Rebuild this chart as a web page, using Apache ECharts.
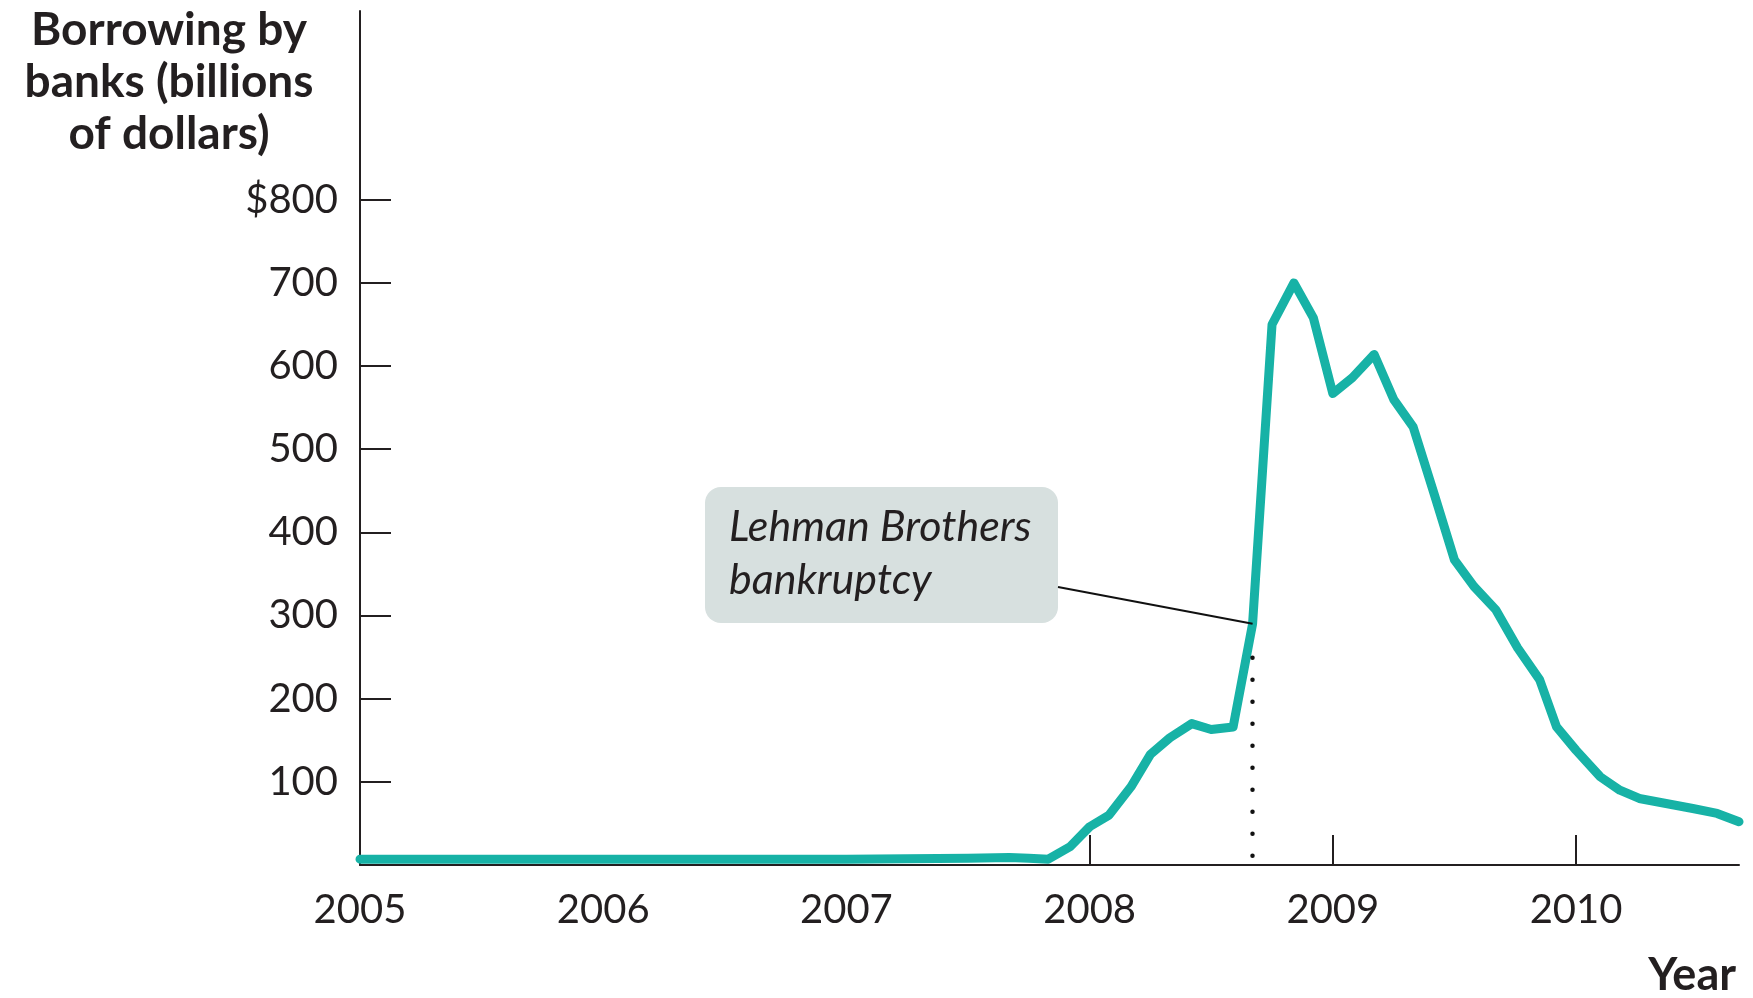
<!DOCTYPE html>
<html>
<head>
<meta charset="utf-8">
<title>Borrowing by banks</title>
<script src="https://cdn.jsdelivr.net/npm/echarts@6/dist/echarts.min.js"></script>
<style>
  html, body { margin: 0; padding: 0; background: #ffffff; }
  #chart { width: 1753px; height: 998px; }
</style>
</head>
<body>
<div id="chart"></div>
<script>
// Borrowing by banks from the Federal Reserve, billions of dollars (time in decimal years)
const years = [
  2005.00, 2005.50, 2006.00, 2006.50, 2007.00, 2007.50, 2007.67, 2007.75, 2007.83,
  2007.92, 2008.00, 2008.08, 2008.17, 2008.25, 2008.33, 2008.42, 2008.50, 2008.59,
  2008.67, 2008.75, 2008.84, 2008.92, 2009.00, 2009.08, 2009.17, 2009.25, 2009.33,
  2009.42, 2009.50, 2009.58, 2009.67, 2009.76, 2009.85, 2009.92, 2010.00, 2010.10,
  2010.18, 2010.26, 2010.37, 2010.48, 2010.58, 2010.67
];
const borrowing = [
  7, 7, 7, 7, 7, 8, 9, 8, 7,
  22, 46, 60, 94, 133, 153, 170, 163, 166,
  290, 650, 700, 658, 567, 586, 614, 560, 527,
  443, 367, 335, 307, 261, 223, 166, 138, 106,
  90, 80, 74, 68, 62, 52
];

// Axis ticks and labels
const yTickValues = [100, 200, 300, 400, 500, 600, 700, 800];
const xLabelYears = [2005, 2006, 2007, 2008, 2009, 2010];
const xTickYears = [2008, 2009, 2010];

// Lehman Brothers bankruptcy marker
const lehmanYear = 2008.67;
const lehmanValue = 290;
const lehmanDotsFrom = 11;
const lehmanDotsTo = 250;
const lehmanText = 'Lehman Brothers\nbankruptcy';

const yTitle = 'Borrowing by\nbanks (billions\nof dollars)';
const xTitle = 'Year';

const ink = '#231f20';
const teal = '#17b2a6';
const font = 'Lato, "Open Sans", "DejaVu Sans", sans-serif';

const seriesData = years.map((y, i) => [y, borrowing[i]]);

const chart = echarts.init(document.getElementById('chart'), null, { renderer: 'canvas' });

chart.setOption({
  animation: false,
  backgroundColor: '#ffffff',
  grid: { left: 360, right: 14, top: 11, bottom: 133, containLabel: false },
  xAxis: {
    type: 'value',
    min: 2005,
    max: 2010.67,
    splitLine: { show: false },
    axisLine: { show: true, onZero: false, lineStyle: { color: ink, width: 2 } },
    axisTick: {
      show: true, inside: true, length: 30,
      customValues: xTickYears,
      lineStyle: { color: ink, width: 2 }
    },
    axisLabel: {
      show: true,
      customValues: xLabelYears,
      margin: 25,
      color: ink,
      fontFamily: font,
      fontSize: 40,
      formatter: v => String(Math.round(v))
    }
  },
  yAxis: {
    type: 'value',
    min: 0,
    max: 1027,
    splitLine: { show: false },
    axisLine: { show: true, lineStyle: { color: ink, width: 2 } },
    axisTick: {
      show: true, inside: true, length: 31,
      customValues: yTickValues,
      lineStyle: { color: ink, width: 2 }
    },
    axisLabel: {
      show: true,
      customValues: yTickValues,
      margin: 22,
      color: ink,
      fontFamily: font,
      fontSize: 40,
      formatter: v => (v === yTickValues[yTickValues.length - 1] ? '$' + v : String(v))
    }
  },
  series: [
    {
      type: 'line',
      data: seriesData,
      showSymbol: false,
      symbol: 'none',
      silent: true,
      z: 3,
      lineStyle: { color: teal, width: 9, join: 'round', cap: 'round' },
      markLine: {
        silent: true,
        symbol: 'none',
        label: { show: false },
        animation: false,
        data: [
          [
            { coord: [lehmanYear, lehmanDotsFrom], lineStyle: { color: '#111111', width: 4.5, type: [0.1, 21.9], cap: 'round' } },
            { coord: [lehmanYear, lehmanDotsTo] }
          ],
          [
            { x: 1058, y: 587, lineStyle: { color: '#111111', width: 2, type: 'solid' } },
            { coord: [lehmanYear, lehmanValue] }
          ]
        ]
      }
    }
  ],
  graphic: [
    {
      type: 'text',
      x: 169, y: 82,
      style: {
        text: yTitle,
        font: 'bold 46px ' + font,
        fill: ink,
        align: 'center',
        verticalAlign: 'middle',
        lineHeight: 52
      }
    },
    {
      type: 'text',
      x: 1736, y: 975,
      style: {
        text: xTitle,
        font: 'bold 45px ' + font,
        fill: ink,
        align: 'right',
        verticalAlign: 'middle'
      }
    },
    {
      type: 'rect',
      shape: { x: 705, y: 487, width: 353, height: 136, r: 16 },
      style: { fill: '#d7e0df' },
      z: 5
    },
    {
      type: 'text',
      x: 729, y: 554,
      z: 6,
      style: {
        text: lehmanText,
        font: 'italic 43px ' + font,
        fill: ink,
        align: 'left',
        verticalAlign: 'middle',
        lineHeight: 53
      }
    }
  ]
});
</script>
</body>
</html>
